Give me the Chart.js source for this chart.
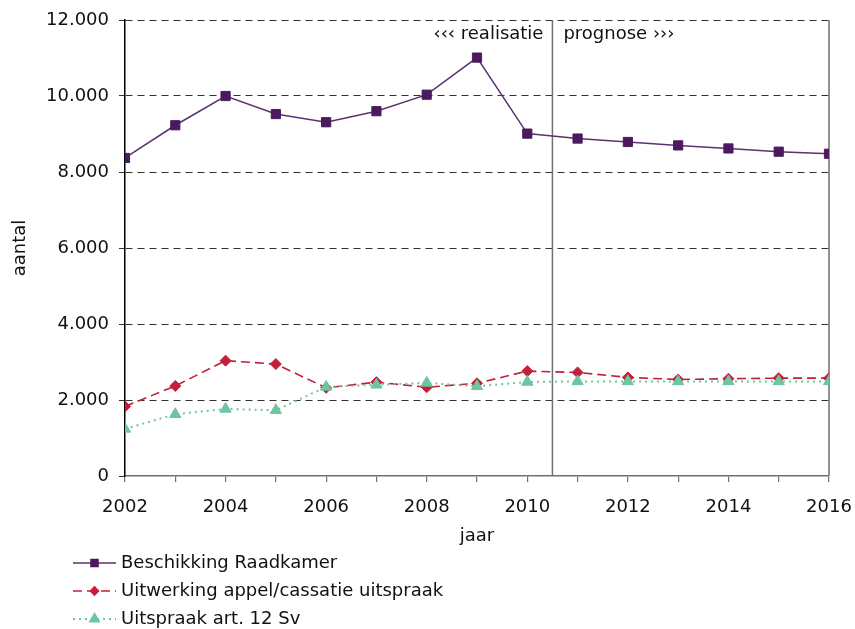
<!DOCTYPE html>
<html>
<head>
<meta charset="utf-8">
<script src="https://cdn.jsdelivr.net/npm/chart.js@4/dist/chart.umd.min.js"></script>
<style>
  html, body { margin: 0; padding: 0; background: #fff; }
  #wrap { width: 855px; height: 629px; position: relative; }
</style>
</head>
<body>
<div id="wrap"><canvas id="c" width="855" height="629"></canvas></div>
<script>
const years = [2002, 2003, 2004, 2005, 2006, 2007, 2008, 2009, 2010, 2011, 2012, 2013, 2014, 2015, 2016];
const beschikking = [8370, 9230, 10000, 9525, 9310, 9600, 10035, 11010, 9010, 8880, 8790, 8700, 8620, 8535, 8480];
const uitwerking = [1830, 2370, 3035, 2945, 2320, 2470, 2335, 2440, 2760, 2725, 2595, 2540, 2560, 2575, 2575];
const uitspraak = [1240, 1625, 1765, 1730, 2345, 2400, 2450, 2360, 2475, 2490, 2490, 2490, 2490, 2490, 2490];
const seriesNames = ['Beschikking Raadkamer', 'Uitwerking appel/cassatie uitspraak', 'Uitspraak art. 12 Sv'];
const yTicks = [0, 2000, 4000, 6000, 8000, 10000, 12000];
const splitYear = 2010.5;
const leftNote = '\u2039\u2039\u2039 realisatie';
const rightNote = 'prognose \u203A\u203A\u203A';
const xTitle = 'jaar';
const yTitle = 'aantal';

const FONT = 'DejaVu Sans, Verdana, sans-serif';
const FS = 18;

function toPts(vals) { return years.map((y, i) => ({ x: y, y: vals[i] })); }
function fmt(v) { return String(v).replace(/\B(?=(\d{3})+(?!\d))/g, '.'); }

const styles = [
  { color: '#4B1A5E', line: '#5A3270', dash: [], width: 1.5, pointStyle: 'rect', radius: 6.5 },
  { color: '#C41E3A', line: '#C41E3A', dash: [9, 5], width: 1.6, pointStyle: 'rectRot', radius: 5.5 },
  { color: '#6CC6A0', line: '#6CC6A0', dash: [2, 4], width: 2, pointStyle: 'triangle', radius: 6.5 }
];
const seriesData = [beschikking, uitwerking, uitspraak];

const overlay = {
  id: 'overlay',
  beforeDatasetsDraw(chart) {
    const { ctx, chartArea, scales } = chart;
    const x = scales.x.getPixelForValue(splitYear);
    ctx.save();
    ctx.strokeStyle = '#707070';
    ctx.lineWidth = 1.5;
    ctx.beginPath();
    ctx.moveTo(x, chartArea.top);
    ctx.lineTo(x, chartArea.bottom);
    ctx.moveTo(chartArea.right, chartArea.top);
    ctx.lineTo(chartArea.right, chartArea.bottom);
    ctx.stroke();
    ctx.fillStyle = '#111';
    ctx.font = FS + 'px ' + FONT;
    ctx.textBaseline = 'middle';
    ctx.textAlign = 'right';
    ctx.fillText(leftNote, x - 9, chartArea.top + 14);
    ctx.textAlign = 'left';
    ctx.fillText(rightNote, x + 11, chartArea.top + 14);
    ctx.restore();
  },
  afterDraw(chart) {
    const { ctx } = chart;
    const x0 = 73, x1 = 116, tx = 121;
    const rows = [563, 591, 619];
    ctx.save();
    styles.forEach((s, i) => {
      const y = rows[i];
      ctx.strokeStyle = s.line;
      ctx.lineWidth = s.width;
      ctx.setLineDash(s.dash);
      ctx.beginPath();
      ctx.moveTo(x0, y);
      ctx.lineTo(x1, y);
      ctx.stroke();
      ctx.setLineDash([]);
      ctx.fillStyle = s.color;
      ctx.strokeStyle = s.color;
      Chart.helpers.drawPoint(ctx, { pointStyle: s.pointStyle, radius: s.radius - 1.5, rotation: 0, borderWidth: 1 }, (x0 + x1) / 2, y);
      ctx.fillStyle = '#111';
      ctx.font = FS + 'px ' + FONT;
      ctx.textAlign = 'left';
      ctx.textBaseline = 'middle';
      ctx.fillText(seriesNames[i], tx, y);
    });
    ctx.restore();
  }
};

new Chart(document.getElementById('c'), {
  type: 'line',
  data: {
    datasets: seriesData.map((vals, i) => ({
      label: seriesNames[i],
      data: toPts(vals),
      borderColor: styles[i].line,
      backgroundColor: styles[i].color,
      borderWidth: styles[i].width,
      borderDash: styles[i].dash,
      pointStyle: styles[i].pointStyle,
      pointRadius: styles[i].radius,
      pointBackgroundColor: styles[i].color,
      pointBorderColor: styles[i].color,
      pointBorderWidth: 1,
      tension: 0,
      fill: false
    })).reverse()
  },
  options: {
    responsive: false,
    animation: false,
    events: [],
    layout: { padding: { left: 0, right: 26, top: 20, bottom: 78 } },
    plugins: { legend: { display: false }, tooltip: { enabled: false } },
    scales: {
      x: {
        type: 'linear',
        min: 2002, max: 2016,
        afterFit(s) { s.height = 75; s.paddingLeft = 0; s.paddingRight = 0; },
        border: { display: true, color: '#707070', width: 1.5 },
        grid: { drawOnChartArea: false, drawTicks: true, tickLength: 6, color: '#707070', lineWidth: 1.2 },
        ticks: {
          stepSize: 1, autoSkip: false, maxRotation: 0, padding: 15,
          color: '#111', font: { family: FONT, size: FS },
          callback: (v) => (v % 2 === 0 ? String(v) : '')
        },
        title: { display: true, text: xTitle, color: '#111', font: { family: FONT, size: FS }, padding: { top: 2, bottom: 4 } }
      },
      y: {
        min: 0, max: 12000,
        afterFit(s) { s.width = 125; s.paddingTop = 0; s.paddingBottom = 0; },
        afterBuildTicks(s) { s.ticks = yTicks.map(v => ({ value: v })); },
        border: { display: true, color: '#000', width: 1.5, dash: [7, 5] },
        grid: {
          color: (c) => (c.tick && c.tick.value === 0 ? 'rgba(0,0,0,0)' : '#333'),
          tickColor: '#333',
          borderDash: [7, 5], tickBorderDash: [], lineWidth: 1, tickLength: 6
        },
        ticks: {
          padding: 10, color: '#111', font: { family: FONT, size: FS },
          callback: (v) => fmt(v)
        },
        title: { display: true, text: yTitle, color: '#111', font: { family: FONT, size: FS }, padding: { top: 10, bottom: 0 } }
      }
    }
  },
  plugins: [overlay]
});
</script>
</body>
</html>
